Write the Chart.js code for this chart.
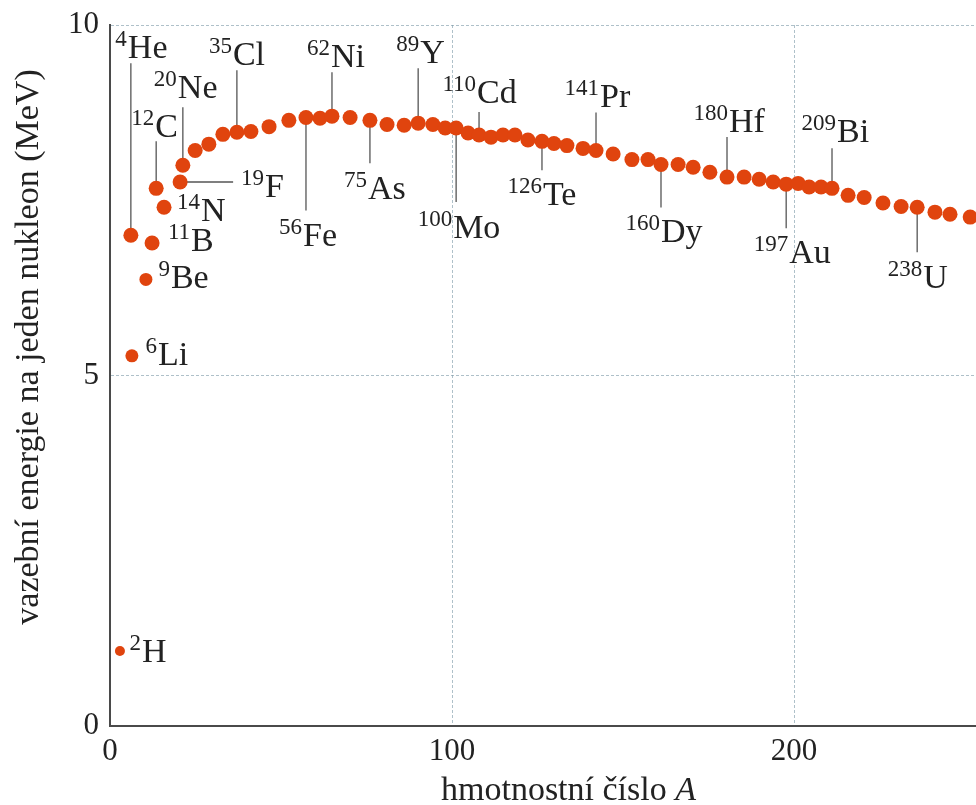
<!DOCTYPE html>
<html>
<head>
<meta charset="utf-8">
<script src="https://cdn.jsdelivr.net/npm/chart.js@4.4.1/dist/chart.umd.min.js"></script>
<style>
    html, body { margin: 0; padding: 0; background: #fff; overflow: hidden; }
    #BindingChart { display: block; }
</style>
</head>
<body>
<canvas id="BindingChart" width="976" height="805"></canvas>
<script>
// values (A, MeV per nucleon)
const massNumbers = [
    2.9, 6.1, 6.4, 10.5, 12.3, 13.5, 15.8, 20.5, 21.3, 24.9,
    28.9, 33.0, 37.1, 41.2, 46.5, 52.3, 57.3, 61.4, 64.9, 70.2,
    76.0, 81.0, 86.0, 90.1, 94.4, 98.0, 101.2, 104.7, 107.9, 111.4,
    114.9, 118.4, 122.2, 126.3, 129.8, 133.6, 138.3, 142.1, 147.1, 152.6,
    157.3, 161.1, 166.1, 170.5, 175.4, 180.4, 185.4, 189.8, 193.9, 197.7,
    201.2, 204.4, 207.9, 211.1, 215.8, 220.5, 226.0, 231.3, 236.0, 241.2,
    245.6, 251.5
];
const bindingEnergies = [
    1.07, 7.00, 5.28, 6.37, 6.89, 7.67, 7.40, 7.76, 8.00, 8.21,
    8.30, 8.44, 8.47, 8.48, 8.55, 8.64, 8.68, 8.67, 8.70, 8.68,
    8.64, 8.58, 8.57, 8.60, 8.58, 8.53, 8.53, 8.46, 8.43, 8.40,
    8.43, 8.43, 8.36, 8.34, 8.31, 8.28, 8.24, 8.21, 8.16, 8.08,
    8.08, 8.01, 8.01, 7.97, 7.90, 7.83, 7.83, 7.80, 7.76, 7.73,
    7.74, 7.69, 7.69, 7.67, 7.57, 7.54, 7.46, 7.41, 7.40, 7.33,
    7.30, 7.26
];
const xTicks = [0, 100, 200];
const yTicks = [0, 5, 10];

// labelled isotopes: which point, mass number, symbol
const labelPoint = [0, 1, 2, 3, 4, 5, 6, 7, 8, 12, 16, 18, 20, 23, 26, 28, 33, 37, 41, 45, 49, 53, 58];
const labelMass = ['2', '4', '6', '9', '11', '12', '14', '19', '20', '35', '56', '62', '75', '89',
    '100', '110', '126', '141', '160', '180', '197', '209', '238'];
const labelSymbol = ['H', 'He', 'Li', 'Be', 'B', 'C', 'N', 'F', 'Ne', 'Cl', 'Fe', 'Ni', 'As', 'Y',
    'Mo', 'Cd', 'Te', 'Pr', 'Dy', 'Hf', 'Au', 'Bi', 'U'];

// where each label sits relative to its dot: [dx, dy(baseline), leader kind, leader end]
const labelPlacement = [
    [22, 11, null, 0], [-3, -177, 'v', -172], [26, 9, null, 0], [25, 9, null, 0],
    [39, 8, null, 0], [-1, -51, 'v', -47], [37, 14, null, 0], [85, 15, 'h', 53],
    [-5, -67, 'v', -58], [-4, -67, 'v', -62], [-3, 128, 'v', 93], [-1, -49, 'v', -44],
    [-2, 79, 'v', 43], [2, -60, 'v', -55], [-3, 110, 'v', 74], [-2, -32, 'v', -23],
    [1, 64, 'v', 29], [4, -43, 'v', -38], [0, 78, 'v', 43], [2, -45, 'v', -40],
    [3, 79, 'v', 44], [5, -46, 'v', -40], [6, 81, 'v', 45]
];

const serif = '"Liberation Serif", "DejaVu Serif", serif';
const textColor = '#222222';

const isotopeLabels = {
    id: 'isotopeLabels',
    beforeDatasetsDraw(chart) {
        const {ctx, scales: {x, y}} = chart;
        ctx.save();
        ctx.strokeStyle = '#555555';
        ctx.lineWidth = 1.3;
        labelPoint.forEach((p, i) => {
            const [, , kind, end] = labelPlacement[i];
            if (!kind) return;
            const px = x.getPixelForValue(massNumbers[p]);
            const py = y.getPixelForValue(bindingEnergies[p]);
            ctx.beginPath();
            ctx.moveTo(px, py);
            if (kind === 'v') ctx.lineTo(px, py + end);
            else ctx.lineTo(px + end, py);
            ctx.stroke();
        });
        ctx.restore();
    },
    afterDatasetsDraw(chart) {
        const {ctx, scales: {x, y}} = chart;
        ctx.save();
        ctx.fillStyle = textColor;
        ctx.textBaseline = 'alphabetic';
        labelPoint.forEach((p, i) => {
            const [dx, dy] = labelPlacement[i];
            const px = x.getPixelForValue(massNumbers[p]) + dx;
            const py = y.getPixelForValue(bindingEnergies[p]) + dy;
            ctx.font = '34px ' + serif;
            ctx.textAlign = 'left';
            ctx.fillText(labelSymbol[i], px, py);
            ctx.font = '23px ' + serif;
            ctx.textAlign = 'right';
            ctx.fillText(labelMass[i], px - 1, py - 12);
        });

        // axis titles
        ctx.textAlign = 'left';
        ctx.font = '34px ' + serif;
        const main = 'hmotnostní číslo ';
        ctx.fillText(main, 441, 800);
        const w = ctx.measureText(main).width;
        ctx.font = 'italic 34px ' + serif;
        ctx.fillText('A', 441 + w, 800);

        ctx.save();
        ctx.translate(29, 347);
        ctx.rotate(-Math.PI / 2);
        ctx.font = '34px ' + serif;
        ctx.textAlign = 'center';
        ctx.textBaseline = 'middle';
        ctx.fillText('vazební energie na jeden nukleon (MeV)', 0, 0);
        ctx.restore();
        ctx.restore();
    }
};

const gridColor = (c) => c.tick && c.tick.value === 0 ? 'rgba(0,0,0,0)' : 'rgba(120,150,165,0.6)';

const ctx = document.getElementById('BindingChart');
const BindingChart = new Chart(ctx, {
    type: 'scatter',
    data: {
        datasets: [{
            data: massNumbers.map((a, i) => ({x: a, y: bindingEnergies[i]})),
            backgroundColor: '#e0440e',
            borderWidth: 0,
            clip: false,
            pointRadius: (c) => c.dataIndex === 0 ? 5 : (c.dataIndex < 4 && c.dataIndex > 1 ? 6.5 : 7.5),
            pointHoverRadius: 7.5
        }]
    },
    options: {
        responsive: false,
        animation: false,
        layout: {autoPadding: false, padding: {top: 25, right: 0, bottom: 0, left: 0}},
        plugins: {
            legend: {display: false},
            tooltip: {enabled: false}
        },
        scales: {
            x: {
                type: 'linear',
                min: 0,
                max: 253.2,
                afterBuildTicks: (scale) => { scale.ticks = xTicks.map(v => ({value: v})); },
                afterFit: (scale) => {
                    scale.height = 79;
                    scale.paddingLeft = 0;
                    scale.paddingRight = 0;
                },
                grid: {color: gridColor, lineWidth: 1, drawTicks: false},
                border: {display: true, color: '#4a4a4a', width: 2, dash: [3, 2]},
                ticks: {
                    padding: 7,
                    color: textColor,
                    font: {family: serif, size: 31}
                },
                title: {display: false}
            },
            y: {
                type: 'linear',
                min: 0,
                max: 10,
                afterBuildTicks: (scale) => { scale.ticks = yTicks.map(v => ({value: v})); },
                afterFit: (scale) => {
                    scale.width = 110;
                    scale.paddingTop = 0;
                    scale.paddingBottom = 0;
                },
                grid: {color: gridColor, lineWidth: 1, drawTicks: false},
                border: {display: true, color: '#4a4a4a', width: 2, dash: [3, 2]},
                ticks: {
                    padding: 11,
                    color: textColor,
                    font: {family: serif, size: 31}
                },
                title: {display: false}
            }
        }
    },
    plugins: [isotopeLabels]
});
</script>
</body>
</html>
